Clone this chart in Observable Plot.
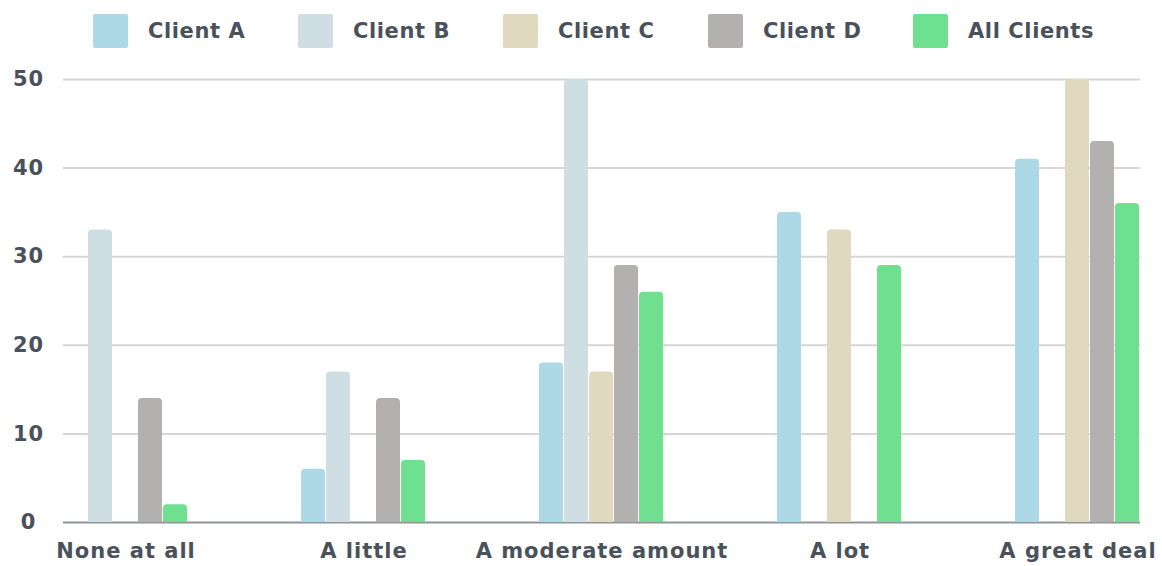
<!DOCTYPE html>
<html><head><meta charset="utf-8">
<script src="https://cdn.jsdelivr.net/npm/d3@7"></script>
<script src="https://cdn.jsdelivr.net/npm/@observablehq/plot@0.6"></script>
<style>
body{margin:0;background:#fff;font-family:"DejaVu Sans",sans-serif;}
#legend{height:62px;position:relative;}
.item{position:absolute;top:14px;display:flex;align-items:center;height:34px;font-weight:700;font-size:21px;color:#4a515b;white-space:nowrap;letter-spacing:0.6px;}
.sw{width:35px;height:34px;border-radius:2px;margin-right:20px;}
</style></head><body>
<div id="legend"></div><div id="chart"></div>
<script>
const categories = ["None at all","A little","A moderate amount","A lot","A great deal"];
const series = ["Client A","Client B","Client C","Client D","All Clients"];
const clientA = [null,6,18,35,41];
const clientB = [33,17,50,null,null];
const clientC = [null,null,17,33,50];
const clientD = [14,14,29,null,43];
const allClients = [2,7,26,29,36];
const yTicks = [0,10,20,30,40,50];
const colors = ["#add8e6","#cfdee3","#e0d8bf","#b2b1af","#6ee08f"];

const seriesValues = [clientA,clientB,clientC,clientD,allClients];

// legend
const legend = document.getElementById("legend");
series.forEach((s,i)=>{
  const it = document.createElement("div");
  it.className="item";
  it.style.left = (93 + i*205) + "px";
  const sw = document.createElement("div");
  sw.className="sw"; sw.style.background = colors[i];
  it.appendChild(sw);
  const t = document.createElement("span"); t.textContent = s;
  it.appendChild(t);
  legend.appendChild(it);
});

const barStep = 25;
const barMarks = [];
seriesValues.forEach((vals,i)=>{
  const d = categories.map((c,ci)=>({category:c, value:vals[ci]})).filter(r=>r.value!=null);
  const opts = {x:"category", fill:colors[i], insetLeft:i*barStep, insetRight:(4-i)*barStep+1};
  barMarks.push(Plot.barY(d, {...opts, y:"value", rx:4}));
  barMarks.push(Plot.barY(d, {...opts, y:r=>Math.min(r.value,0.6)}));
});

const chart = Plot.plot({
  width:1162, height:504,
  marginLeft:63, marginRight:22, marginTop:17, marginBottom:44,
  style:{fontFamily:"'DejaVu Sans', sans-serif", fontSize:"21px", fontWeight:700, color:"#4a515b", background:"#fff", overflow:"visible", letterSpacing:"1px"},
  x:{domain:categories, paddingInner:0.4748, paddingOuter:0, label:null},
  y:{domain:[0,50], label:null},
  marks:[
    Plot.gridY(yTicks.filter(t=>t>0), {stroke:"#d6d6d6", strokeOpacity:1, strokeWidth:2}),
    Plot.ruleY([0], {stroke:"#8f959c", strokeWidth:2}),
    ...barMarks,
    Plot.axisY(yTicks, {tickSize:0, tickPadding:35, textAnchor:"middle", label:null, fontSize:21, fontWeight:700, fill:"#4a515b"}),
    Plot.axisX({tickSize:0, tickPadding:21, label:null, fontSize:21, fontWeight:700, fill:"#4a515b"})
  ]
});
document.getElementById("chart").appendChild(chart);
</script>
</body></html>
